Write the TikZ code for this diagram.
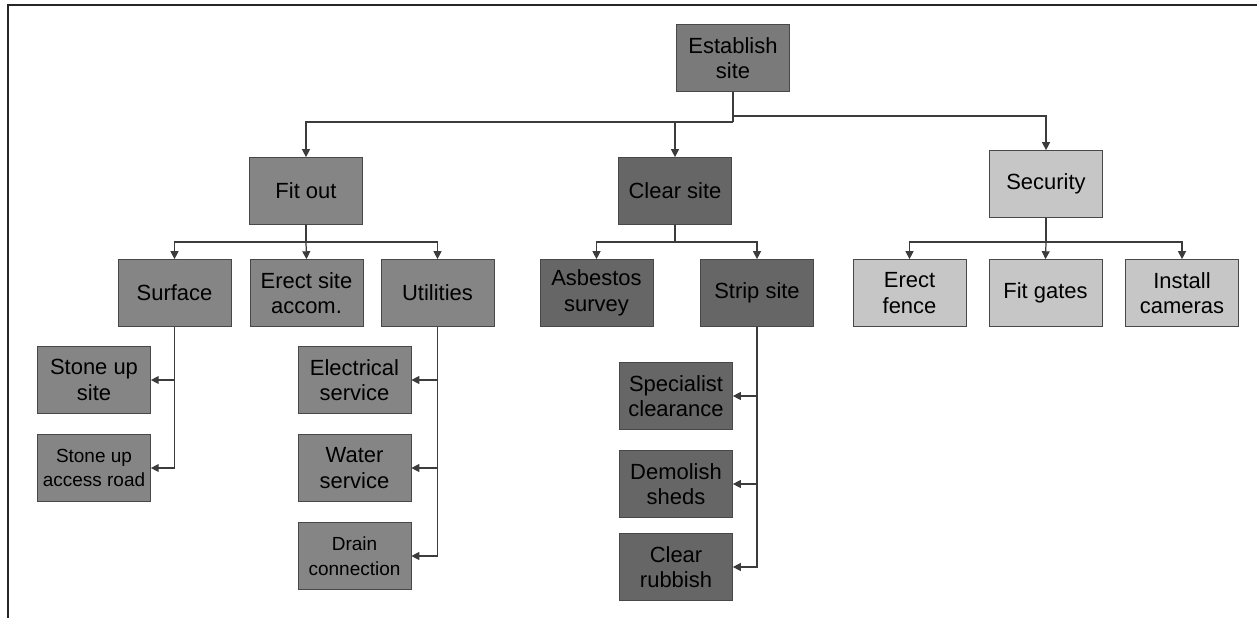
\documentclass[tikz,border=0pt]{standalone}
\usepackage{fontspec}
\setmainfont{Liberation Sans}
\usepackage{tikz}
\usetikzlibrary{arrows.meta,positioning,calc}
\tikzset{
  >=Triangle,
  every node/.append style={font=\fontsize{12.5}{14.5}\selectfont},
}
\tikzset{
  task/.style={draw=boxline, align=center, inner sep=1pt, minimum width=2.26cm, minimum height=1.34cm},
  smalltask/.style={task, font=\fontsize{10.8}{14}\selectfont},
  arrow/.style={-{Triangle[length=4.5pt,width=4.5pt]}, draw=linegray, line width=0.7pt},
  link/.style={draw=linegray, line width=0.7pt}
}

\begin{document}
\begin{tikzpicture}[x=0.02cm, y=-0.02cm]
% Color definitions
\definecolor{boxline}{RGB}{72,72,72}
\definecolor{linegray}{RGB}{60,60,60}
\definecolor{estgray}{RGB}{122,122,122}
\definecolor{fitgray}{RGB}{133,133,133}
\definecolor{cleargray}{RGB}{102,102,102}
\definecolor{secgray}{RGB}{198,198,198}

% Page and frame
\useasboundingbox (0,0) rectangle (1257,618);
\draw[line width=1.2pt, black!85] (8,618) -- (8,5) -- (1257,5);

% Top level
\node[task, fill=estgray] (est) at (733,58) {Establish\\site};

% Second level
\node[task, fill=fitgray] (fit) at (306,191) {Fit out};
\node[task, fill=cleargray] (clr) at (675,191) {Clear site};
\node[task, fill=secgray] (sec) at (1046,184) {Security};

% Third level
\node[task, fill=fitgray] (surf) at (174.5,293) {Surface};
\node[task, fill=fitgray] (accom) at (306.5,293) {Erect site\\accom.};
\node[task, fill=fitgray] (util) at (437.5,293) {Utilities};
\node[task, fill=cleargray] (asb) at (596.5,293) {Asbestos\\survey};
\node[task, fill=cleargray] (strip) at (757,293) {Strip site};
\node[task, fill=secgray] (fence) at (909.5,293) {Erect\\fence};
\node[task, fill=secgray] (gates) at (1045.5,293) {Fit gates};
\node[task, fill=secgray] (cams) at (1182,293) {Install\\cameras};

% Fourth level
\node[task, fill=fitgray] (stsite) at (94,380) {Stone up\\site};
\node[smalltask, fill=fitgray] (stroad) at (94,468) {Stone up\\access road};
\node[task, fill=fitgray] (elec) at (354.5,380) {Electrical\\service};
\node[task, fill=fitgray] (water) at (354.5,468) {Water\\service};
\node[smalltask, fill=fitgray] (drain) at (354.5,556) {Drain\\connection};
\node[task, fill=cleargray] (spec) at (676,396) {Specialist\\clearance};
\node[task, fill=cleargray] (demo) at (676,484) {Demolish\\sheds};
\node[task, fill=cleargray] (rubb) at (676,567) {Clear\\rubbish};

% Bus points
\coordinate (estL) at (733,122);
\coordinate (estR) at (733,116);
\coordinate (fitbar) at (306,242);
\coordinate (clrbar) at (675,242);
\coordinate (secbar) at (1046,242);

% Connectors from top
\draw[link] (est.south) -- (estL);
\draw[arrow] (estL) -| (fit.north);
\draw[arrow] (estL) -| (clr.north);
\draw[arrow] (estR) -| (sec.north);

% Fit out branch
\draw[link] (fit.south) -- (fitbar);
\draw[arrow] (fitbar) -| (surf.north);
\draw[arrow] (fitbar) -- (accom.north);
\draw[arrow] (fitbar) -| (util.north);
\draw[arrow] (surf.south) |- (stsite.east);
\draw[arrow] (surf.south) |- (stroad.east);
\draw[arrow] (util.south) |- (elec.east);
\draw[arrow] (util.south) |- (water.east);
\draw[arrow] (util.south) |- (drain.east);

% Clear site branch
\draw[link] (clr.south) -- (clrbar);
\draw[arrow] (clrbar) -| (asb.north);
\draw[arrow] (clrbar) -| (strip.north);
\draw[arrow] (strip.south) |- (spec.east);
\draw[arrow] (strip.south) |- (demo.east);
\draw[arrow] (strip.south) |- (rubb.east);

% Security branch
\draw[link] (sec.south) -- (secbar);
\draw[arrow] (secbar) -| (fence.north);
\draw[arrow] (secbar) -- (gates.north);
\draw[arrow] (secbar) -| (cams.north);
\end{tikzpicture}
\end{document}
